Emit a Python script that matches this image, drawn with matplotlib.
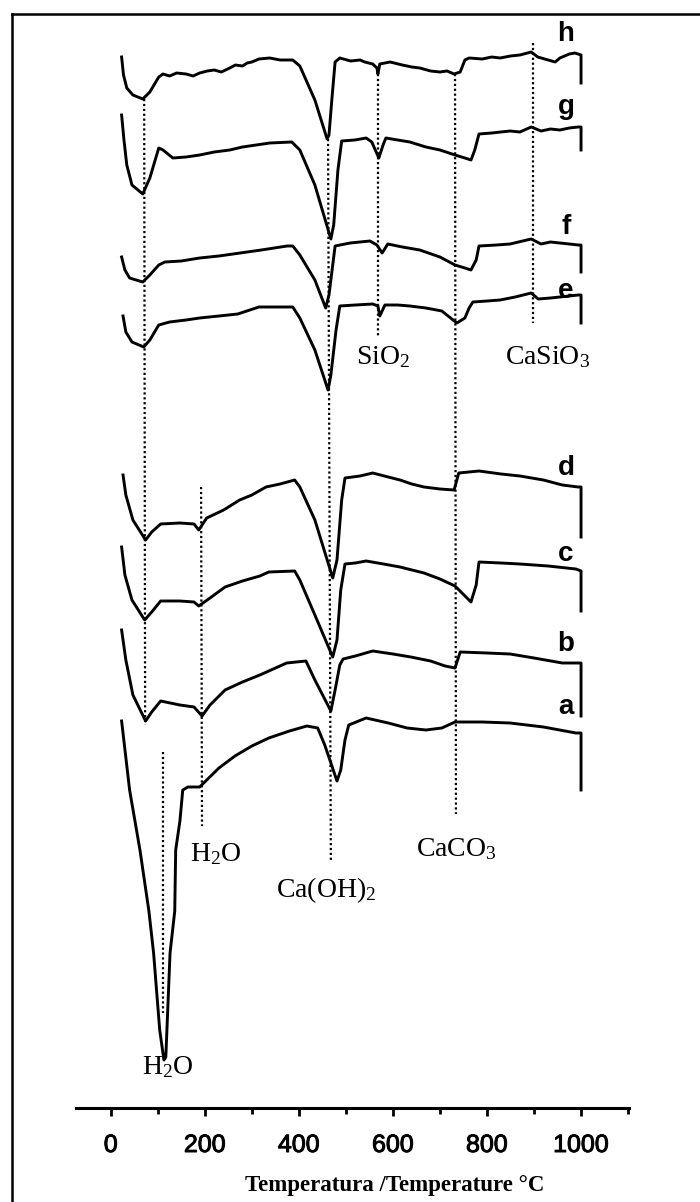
"""
DTG curves a-h, stacked, with the decomposition steps marked
"""
import matplotlib
matplotlib.use("Agg")
from matplotlib import pyplot as plt
from matplotlib.lines import Line2D
import matplotlib.patheffects as pe

# ---- data (temperature [C], signal [arb. units]) ----
T_h = [23, 27, 34, 47, 68, 83, 102, 111, 125, 140, 160, 175, 189, 205, 220, 235, 253, 265, 280, 290,
       300, 315, 338, 360, 387, 402, 434, 460, 464, 470, 477, 487, 510, 530, 540, 557, 566, 568, 572, 594,
       620, 640, 657, 680, 700, 715, 730, 743, 753, 762, 790, 810, 828, 850, 870, 894, 908, 930, 945, 955,
       975, 987, 1000, 1000]
S_h = [1051, 1033, 1020, 1013, 1009, 1016, 1031, 1034, 1032, 1035, 1034, 1032, 1035, 1037, 1038, 1036, 1040, 1043, 1042, 1045,
       1046, 1049, 1050, 1048, 1048, 1042, 1008, 969, 973, 1008, 1046, 1050, 1047, 1048, 1046, 1044, 1040, 1034, 1044, 1046,
       1043, 1041, 1040, 1037, 1036, 1037, 1034, 1036, 1048, 1050, 1049, 1051, 1050, 1052, 1053, 1056, 1051, 1048, 1046, 1050,
       1054, 1055, 1053, 1025]

T_g = [23, 28, 34, 45, 68, 83, 102, 111, 132, 160, 189, 220, 253, 280, 309, 338, 385, 402, 434, 468,
       474, 483, 491, 519, 543, 555, 570, 579, 585, 610, 636, 670, 700, 732, 753, 766, 774, 783, 810, 849,
       870, 894, 915, 935, 955, 975, 994, 1000, 1000]
S_g = [993, 968, 943, 923, 914, 930, 960, 958, 950, 951, 953, 956, 958, 961, 963, 965, 966, 958, 923, 869,
       883, 938, 967, 968, 970, 966, 950, 963, 970, 968, 966, 961, 958, 953, 950, 948, 958, 974, 975, 977,
       976, 981, 977, 979, 978, 980, 981, 981, 958]

T_f = [23, 30, 40, 68, 83, 102, 115, 150, 189, 230, 275, 320, 375, 387, 402, 434, 457, 464, 477, 509,
       551, 566, 577, 589, 620, 657, 700, 732, 753, 766, 777, 783, 820, 849, 894, 915, 935, 955, 975, 994,
       1000, 1000]
S_f = [851, 838, 830, 826, 833, 843, 846, 847, 850, 852, 855, 858, 862, 862, 853, 828, 800, 813, 862, 865,
       867, 863, 855, 864, 861, 858, 851, 843, 840, 838, 848, 862, 863, 864, 869, 864, 866, 865, 864, 863,
       863, 836]

T_e = [26, 32, 45, 70, 83, 102, 125, 160, 189, 230, 270, 315, 387, 402, 434, 462, 468, 479, 487, 520,
       557, 568, 572, 583, 610, 636, 670, 704, 736, 753, 762, 770, 800, 828, 860, 894, 909, 935, 955, 994,
       1000, 1000]
S_e = [792, 776, 766, 761, 768, 783, 786, 788, 790, 792, 794, 801, 801, 790, 758, 718, 733, 778, 802, 803,
       804, 802, 792, 803, 803, 802, 800, 797, 785, 790, 800, 806, 807, 808, 811, 815, 809, 810, 811, 813,
       813, 785]

T_d = [26, 32, 47, 74, 87, 106, 147, 177, 187, 204, 240, 274, 300, 330, 360, 391, 402, 434, 472, 481,
       491, 498, 530, 557, 590, 615, 640, 666, 700, 730, 740, 783, 830, 870, 920, 960, 994, 1000, 1000]
S_d = [633, 613, 588, 568, 576, 584, 585, 584, 578, 590, 598, 608, 613, 621, 624, 628, 621, 588, 530, 548,
       608, 630, 632, 635, 631, 628, 624, 621, 619, 618, 635, 637, 634, 632, 628, 623, 621, 621, 571]

T_c = [23, 30, 45, 72, 87, 106, 147, 177, 187, 211, 243, 280, 317, 336, 391, 402, 434, 472, 481, 489,
       498, 520, 543, 580, 615, 666, 700, 732, 766, 777, 783, 830, 870, 930, 989, 1000, 1000]
S_c = [561, 533, 508, 488, 496, 507, 507, 506, 502, 510, 521, 527, 532, 536, 537, 528, 493, 451, 468, 518,
       544, 545, 547, 544, 541, 535, 529, 522, 506, 523, 546, 545, 544, 542, 539, 537, 497]

T_b = [23, 32, 47, 74, 87, 106, 147, 177, 194, 211, 243, 280, 317, 374, 415, 434, 468, 477, 487, 494,
       520, 557, 600, 638, 680, 711, 732, 743, 800, 849, 900, 960, 994, 1000, 1000]
S_b = [478, 448, 413, 387, 396, 407, 403, 401, 392, 403, 418, 426, 433, 445, 447, 428, 397, 418, 443, 449,
       452, 457, 454, 451, 447, 442, 440, 456, 455, 454, 450, 445, 445, 445, 392]

T_a = [23, 40, 62, 81, 91, 104, 113, 117, 126, 136, 138, 147, 153, 164, 189, 204, 230, 264, 300, 336,
       380, 417, 440, 455, 481, 489, 498, 506, 543, 590, 630, 670, 704, 732, 790, 849, 920, 989, 1000, 1000]
S_a = [387, 318, 258, 197, 155, 78, 48, 51, 155, 197, 258, 287, 318, 321, 321, 328, 340, 352, 362, 370,
       377, 382, 380, 363, 327, 338, 368, 383, 390, 385, 380, 378, 380, 386, 386, 385, 381, 375, 375, 318]

curves = [("h", T_h, S_h), ("g", T_g, S_g), ("f", T_f, S_f), ("e", T_e, S_e),
          ("d", T_d, S_d), ("c", T_c, S_c), ("b", T_b, S_b), ("a", T_a, S_a)]
curve_label_T = 968
curve_label_S = [1074, 1001, 881, 817, 640, 554, 464, 401]

# dotted guide lines: (T top, T bottom, S top, S bottom)
guide_T_top = [71, 192, 111, 462, 568, 732, 898]
guide_T_bot = [73, 194, 111, 468, 568, 734, 898]
guide_S_top = [1009, 621, 356, 969, 1034, 1034, 1065]
guide_S_bot = [383, 282, 95, 246, 771, 294, 785]

# compound labels
comp_text = ["SiO$_\\mathrm{2}$", "CaSiO$_\\mathrm{3}$", "H$_\\mathrm{2}$O", "CaCO$_\\mathrm{3}$",
             "Ca(OH)$_\\mathrm{2}$", "H$_\\mathrm{2}$O"]
comp_T = [579, 928, 223, 734, 457, 121]
comp_S = [751, 751, 254, 259, 218, 41]

W, H = 700, 1202


def main():
    plt.rcParams['mathtext.fontset'] = 'custom'
    plt.rcParams['mathtext.rm'] = 'Liberation Serif'
    plt.rcParams['mathtext.it'] = 'Liberation Serif:italic'
    plt.rcParams['mathtext.bf'] = 'Liberation Serif:bold'

    fig = plt.figure(figsize=(W / 100, H / 100), dpi=100)
    ax = fig.add_axes([76 / W, (H - 1108) / H, (629 - 76) / W, (1108 - 14) / H])

    for name, T, S in curves:
        ax.plot(T, S, color="k", lw=2.1, solid_joinstyle="round")
    for lab, s in zip([c[0] for c in curves], curve_label_S):
        ax.text(curve_label_T, s, lab, ha="center", va="center", fontsize=20,
                fontweight="bold", family="Liberation Sans")

    for t0, t1, s0, s1 in zip(guide_T_top, guide_T_bot, guide_S_top, guide_S_bot):
        ax.plot([t0, t1], [s0, s1], color="k", lw=1.6, ls=(0, (1, 1.2)))

    for txt, t, s in zip(comp_text, comp_T, comp_S):
        ax.text(t, s, txt, ha="center", va="center", fontsize=20, family="Liberation Serif")

    ax.set_xlim(-74, 1102)
    ax.set_ylim(0, 1094)
    for sp in ["left", "right", "top"]:
        ax.spines[sp].set_visible(False)
    ax.spines["bottom"].set_linewidth(2.2)
    ax.set_yticks([])
    ax.set_xticks([0, 200, 400, 600, 800, 1000])
    ax.set_xticks([100, 300, 500, 700, 900, 1100], minor=True)
    ax.tick_params(axis="x", which="major", length=6, width=2, pad=12, labelsize=18)
    ax.tick_params(axis="x", which="minor", length=4, width=2)
    for lb in ax.get_xticklabels():
        lb.set_family("Liberation Sans")
        lb.set_path_effects([pe.withStroke(linewidth=0.7, foreground="k")])
    ax.set_xlabel("Temperatura /Temperature °C", fontsize=16.5, fontweight="bold",
                  family="Liberation Serif", va="center")
    ax.xaxis.set_label_coords((395 - 76) / (629 - 76), (1108 - 1186) / (1108 - 14))

    # frame (left and top edges only)
    fig.add_artist(Line2D([12 / W, 12 / W], [0, (H - 14) / H], color="k", lw=1.8))
    fig.add_artist(Line2D([12 / W, 1], [(H - 14) / H, (H - 14) / H], color="k", lw=1.8))

    fig.savefig("out.png", dpi=100)
    return 0


if __name__ == "__main__":
    main()
